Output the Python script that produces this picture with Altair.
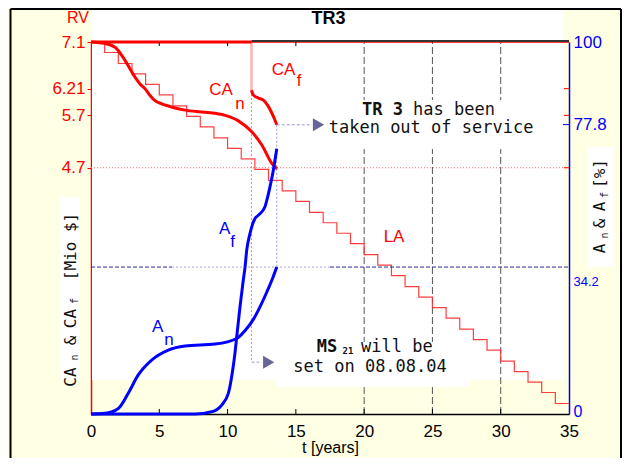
import altair as alt
import pandas as pd

# ------------------------------------------------------------------ data
# LA : yearly staircase of the remaining value [Mio $]
la_t = list(range(0, 36))
la_v = [7.10, 6.90, 6.69, 6.49, 6.29, 6.09, 5.88, 5.68, 5.48, 5.27,
        5.07, 4.87, 4.67, 4.46, 4.26, 4.06, 3.85, 3.65, 3.45, 3.25,
        3.04, 2.84, 2.64, 2.43, 2.23, 2.03, 1.83, 1.62, 1.42, 1.22,
        1.01, 0.81, 0.61, 0.41, 0.20, 0.20]

# CA_n / CA_f [Mio $]
can_t = [0.00, 1.03, 1.76, 2.49, 3.22, 3.59, 3.95, 4.32, 4.69, 5.18,
         5.64, 6.15, 6.88, 8.35, 9.81, 10.76, 11.79, 12.52, 13.25, 13.62]
can_v = [7.10, 7.07, 7.00, 6.75, 6.43, 6.30, 6.21, 6.08, 5.98, 5.92,
         5.88, 5.84, 5.80, 5.76, 5.70, 5.60, 5.38, 5.13, 4.78, 4.68]
caf_t = [11.75, 11.88, 12.25, 12.62, 12.94, 13.23, 13.42, 13.60]
caf_v = [6.18, 6.09, 6.03, 5.99, 5.89, 5.75, 5.64, 5.52]

# A_n / A_f [%]
an_t = [0.00, 1.02, 2.00, 2.73, 3.46, 4.44, 5.66, 6.88, 9.08, 10.67,
        11.30, 11.90, 12.40, 12.90, 13.30, 13.60]
an_p = [0.0, 0.2, 1.5, 5.6, 10.5, 14.5, 17.2, 18.3, 18.8, 20.3,
        22.5, 25.5, 29.0, 33.0, 36.5, 39.5]
af_t = [0.00, 7.60, 8.84, 9.57, 10.06, 10.30, 10.54, 10.67, 10.91, 11.15,
        11.28, 11.40, 11.64, 12.00, 12.25, 12.74, 12.87, 13.10, 13.35, 13.60]
af_p = [0.0, 0.0, 0.6, 2.4, 5.6, 10.0, 16.3, 20.8, 28.8, 36.0,
        39.5, 44.0, 48.5, 52.5, 53.4, 55.7, 57.4, 61.0, 65.5, 71.3]

left_ticks = [4.7, 5.7, 6.21, 7.1]
right_ticks = [0, 34.2, 77.8, 100]
x_ticks = [0, 5, 10, 15, 20, 25, 30, 35]
grid_t = [20, 25, 30]

rv = 7.1
t_ms = 11.75        # MS21 set
t_out = 13.6        # taken out of service
rv_ms_start = 6.18  # CA_f start
rv_out = 5.52       # CA_f end
rv_line = 4.7
a_line = 39.5
arrow_low_v = 0.99

RED = "#ff0000"
BLUE = "#0000ff"
GUIDE = "#9a9ac8"
SANS = "Liberation Sans"
MONO = "DejaVu Sans Mono"

W, H = 478, 372

# ------------------------------------------------------------------ scales / axes
x_axis = alt.Axis(values=x_ticks, title="t [years]", format="d",
                  labelFontSize=17, titleFontSize=16, titleFontWeight="normal",
                  labelColor="black", titleColor="black", labelFont=SANS, titleFont=SANS,
                  domainColor="black", domainWidth=1.5, ticks=False, tickSize=0,
                  labelPadding=9, titlePadding=0, labelFlush=False, grid=False)
left_axis = alt.Axis(orient="left", values=left_ticks, format=".2~f", title=None,
                     labelFontSize=17, labelColor=RED, labelFont=SANS,
                     tickColor=RED, tickSize=4, domainColor=RED, domainWidth=1.5,
                     labelPadding=2, grid=False, labelOverlap=False)
right_axis = alt.Axis(orient="right", values=right_ticks, format=".1~f", title=None,
                      labelFontSize={"condition": [{"test": "datum.value == 34.2", "value": 13},
                                                   {"test": "datum.value == 0", "value": 16}],
                                     "value": 17},
                      labelOffset={"condition": [{"test": "datum.value == 34.2", "value": -5},
                                                 {"test": "datum.value == 0", "value": -3}],
                                   "value": 0},
                      labelColor=BLUE, labelFont=SANS, ticks=False, tickSize=0,
                      domainColor=BLUE, domainWidth=1.5, labelPadding=4,
                      grid=False, labelOverlap=False)

X = alt.X("t:Q", scale=alt.Scale(domain=[0, 35], nice=False, zero=False), axis=x_axis)
X2 = alt.X2("t2:Q")
YL = alt.Y("v:Q", scale=alt.Scale(domain=[0, rv], nice=False, zero=False), axis=left_axis)
YL2 = alt.Y2("v2:Q")
YR = alt.Y("p:Q", scale=alt.Scale(domain=[0, 100], nice=False), axis=right_axis)

one = pd.DataFrame({"a": [0]})


def box(x0, x1, y0, y1, color="white"):
    return alt.Chart(one).mark_rect(color=color).encode(
        x=alt.value(x0), x2=alt.value(x1), y=alt.value(y0), y2=alt.value(y1))


def seg(text, px, py, size, font=MONO, weight="normal", angle=0, color="#111111"):
    return alt.Chart(pd.DataFrame({"label": [text]})).mark_text(
        x=px, y=py, fontSize=size, font=font, fontWeight=weight, angle=angle,
        color=color, align="center", baseline="middle").encode(text="label:N")


def data_text(labels, ts, vs, size, color, font=SANS, weight="normal", align="center", ycol="v"):
    df = pd.DataFrame({"label": labels, "t": ts, ycol: vs})
    y = YL if ycol == "v" else YR
    return alt.Chart(df).mark_text(fontSize=size, font=font, fontWeight=weight, color=color,
                                   align=align, baseline="middle").encode(x=X, y=y, text="label:N")


def hrule(t0, t1, v, color, width=1, dash=None, ycol="v"):
    df = pd.DataFrame({"t": t0, "t2": t1, ycol: v})
    kw = dict(color=color, strokeWidth=width)
    if dash:
        kw["strokeDash"] = dash
    y = YL if ycol == "v" else YR
    return alt.Chart(df).mark_rule(**kw).encode(x=X, x2=X2, y=y)


def vrule(ts, v0, v1, color, width=1, dash=None):
    df = pd.DataFrame({"t": ts, "v": v0, "v2": v1})
    kw = dict(color=color, strokeWidth=width)
    if dash:
        kw["strokeDash"] = dash
    return alt.Chart(df).mark_rule(**kw).encode(x=X, y=YL, y2=YL2)


# ------------------------------------------------------------------ left (RV) group
layers = []
layers.append(box(1, 472, -34, 338))                 # white panel
layers.append(box(-31, -11, 155, 338))               # y-title box left
layers.append(box(496, 522, 105, 225))               # y-title box right
layers.append(vrule(grid_t, [0] * 3, [rv] * 3, "#555555", 1, [7, 3]))
layers.append(box(235, 449, 58, 107))                # text box 1
layers.append(box(184, 379, 300, 345))               # text box 2
layers.append(hrule([0], [35], [rv_line], "#ff7070", 1, [1, 2]))
layers.append(alt.Chart(pd.DataFrame({"t": la_t, "v": la_v})).mark_line(
    interpolate="step-after", color="#ff2a2a", strokeWidth=1.2, opacity=0.9).encode(x=X, y=YL))
layers.append(vrule([t_ms], [rv], [rv_ms_start], "#ffb0b0", 2.5))
layers.append(vrule([t_ms, t_out], [rv_ms_start, rv_out], [arrow_low_v, a_line * rv / 100],
                    GUIDE, 1, [2, 2]))
layers.append(hrule([t_ms, t_out], [12.5, 16.18], [arrow_low_v, rv_out], GUIDE, 1, [3, 2]))
layers.append(alt.Chart(pd.DataFrame({"t": [13.01, 16.66], "v": [arrow_low_v, rv_out]})).mark_point(
    shape="triangle-right", filled=True, size=169, color="#666699", opacity=1).encode(x=X, y=YL))
# top border
layers.append(hrule([0], [t_ms], [rv], RED, 3))
layers.append(hrule([t_ms], [35], [rv], RED, 1.5))
layers.append(alt.Chart(pd.DataFrame({"t": [t_ms], "t2": [35]})).mark_rule(
    color="#333333", strokeWidth=2).encode(x=X, x2=X2, y=alt.value(-1)))
# curves
layers.append(alt.Chart(pd.DataFrame({"t": can_t, "v": can_v})).mark_line(
    color=RED, strokeWidth=3, interpolate="monotone").encode(x=X, y=YL))
layers.append(alt.Chart(pd.DataFrame({"t": caf_t, "v": caf_v})).mark_line(
    color=RED, strokeWidth=3, interpolate="monotone").encode(x=X, y=YL))
# inner ticks
layers.append(alt.Chart(pd.DataFrame({"t": x_ticks[1:-1]})).mark_rule(color="black").encode(
    x=X, y=alt.value(H - 5), y2=alt.value(H)))
layers.append(alt.Chart(pd.DataFrame({"t": [5, 10, 15]})).mark_rule(color="black").encode(
    x=X, y=alt.value(0), y2=alt.value(4)))
layers.append(alt.Chart(pd.DataFrame({"v": [6.21, 5.7, 4.7]})).mark_rule(color=RED).encode(
    y=YL, x=alt.value(W - 5), x2=alt.value(W)))
# curve labels
layers.append(data_text(["CA", "CA", "LA"], [9.52, 14.10, 22.19], [6.19, 6.56, 3.38], 17, RED))
layers.append(data_text(["n", "f"], [10.91, 15.23], [5.91, 6.36], 17, RED))
# annotations
layers.append(data_text(["TR 3"], [22.85], [5.80], 17, "#111111", MONO, "bold", "right"))
layers.append(data_text(["has been"], [23.58], [5.80], 17, "#111111", MONO, "normal", "left"))
layers.append(data_text(["taken out of service"], [24.90], [5.45], 17, "#111111", MONO))
layers.append(data_text(["MS"], [17.28], [1.27], 17, "#111111", MONO, "bold"))
layers.append(data_text(["21"], [18.82], [1.20], 9, "#111111", MONO, "bold"))
layers.append(data_text(["will be"], [19.77], [1.27], 17, "#111111", MONO, "normal", "left"))
layers.append(data_text(["set on 08.08.04"], [20.43], [0.89], 17, "#111111", MONO))
# outer texts
layers.append(seg("RV", -13, -24, 16, SANS, color=RED))
layers.append(seg("TR3", 237.5, -23.5, 18, SANS, "bold", color="black"))
for txt, px, py, fs in [("CA", -20.5, 335, 16), ("n", -16, 315.5, 10), ("&", -20.5, 298.5, 16),
                        ("CA", -20.5, 276.5, 16), ("f", -16, 259, 10), ("[Mio $]", -20.5, 204.5, 16)]:
    layers.append(seg(txt, px, py, fs, angle=270))
for txt, px, py, fs in [("A", 509, 206.5, 16), ("n", 514, 193.5, 10), ("&", 509, 181.5, 16),
                        ("A", 509, 164.5, 16), ("f", 514, 153, 10), ("[%]", 509, 131.5, 16)]:
    layers.append(seg(txt, px, py, fs, angle=270))
# figure frame
layers.append(alt.Chart(one).mark_rule(color="black", strokeWidth=2).encode(
    x=alt.value(-80.5), y=alt.value(-33), y2=alt.value(416)))
layers.append(alt.Chart(one).mark_rule(color="black", strokeWidth=2).encode(
    x=alt.value(-80.5), x2=alt.value(530), y=alt.value(-33)))
layers.append(alt.Chart(one).mark_rule(color="black", strokeWidth=2).encode(
    x=alt.value(530), y=alt.value(-33), y2=alt.value(416)))

left = alt.layer(*layers)

# ------------------------------------------------------------------ right (%) group
rlayers = []
rlayers.append(hrule([0, 17.5], [5.93, 35], [a_line, a_line], "#2a2aa0", 1, [4, 2], ycol="p"))
rlayers.append(hrule([5.93], [17.5], [a_line], "#a8a8d8", 1, [2, 2], ycol="p"))
rlayers.append(alt.Chart(pd.DataFrame({"t": an_t, "p": an_p})).mark_line(
    color=BLUE, strokeWidth=3, interpolate="monotone").encode(x=X, y=YR))
rlayers.append(alt.Chart(pd.DataFrame({"t": af_t, "p": af_p})).mark_line(
    color=BLUE, strokeWidth=3, interpolate="monotone").encode(x=X, y=YR))
rlayers.append(alt.Chart(pd.DataFrame({"p": [77.8]})).mark_rule(color=BLUE).encode(
    y=YR, x=alt.value(W - 6), x2=alt.value(W)))
rlayers.append(data_text(["A", "A"], [9.78, 4.89], [49.7, 23.5], 17, BLUE, ycol="p"))
rlayers.append(data_text(["f", "n"], [10.36, 5.71], [46.2, 20.0], 17, BLUE, ycol="p"))
right = alt.layer(*rlayers)

chart = alt.layer(left, right).resolve_scale(y="independent").properties(
    width=W, height=H,
    padding={"left": 83, "top": 34, "right": 53, "bottom": 44},
    autosize=alt.AutoSizeParams(type="none"),
    background="#FFFFE3",
).configure_view(stroke=None).configure(font=SANS)

chart.save("out.html", embed_options={"renderer": "svg", "actions": False})
